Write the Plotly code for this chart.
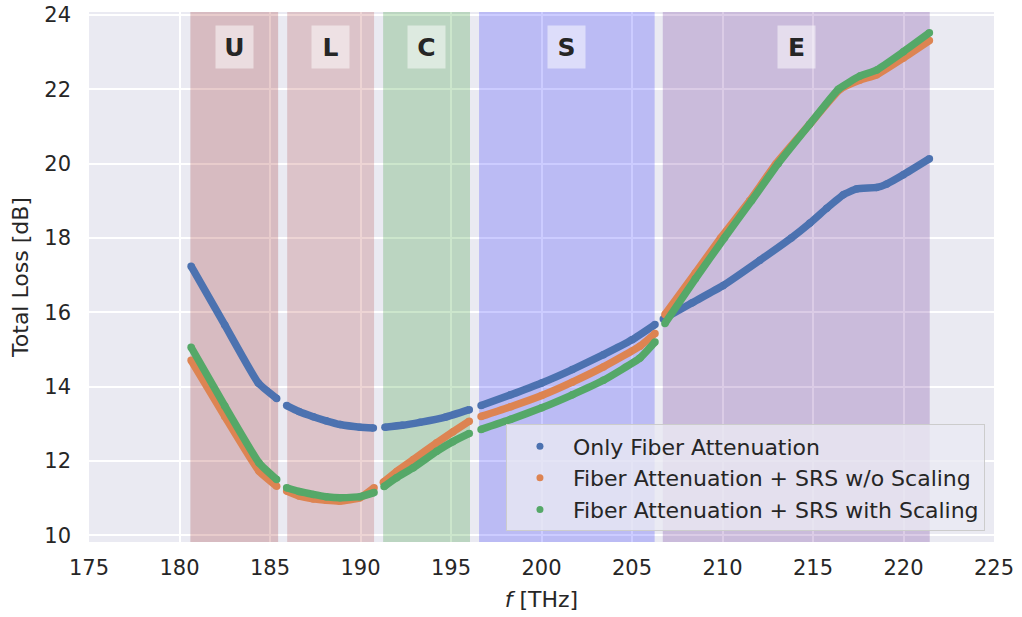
import plotly.graph_objects as go

# frequency bands [THz]
band_names = ["U", "L", "C", "S", "E"]
band_start = [180.6, 185.95, 191.25, 196.55, 206.7]
band_end = [185.45, 190.75, 196.05, 206.25, 221.45]
band_colors = ["rgba(139,0,0,0.2)", "rgba(165,42,42,0.2)", "rgba(0,128,0,0.2)",
               "rgba(0,0,255,0.2)", "rgba(75,0,130,0.2)"]

# Only Fiber Attenuation, one list per band
blue_f = [
    [180.64, 182.5, 184.35, 185.37],
    [185.92, 186.6, 187.39, 188.1, 188.87, 189.97, 190.71],
    [191.35, 192.3, 193.29, 194.7, 196.01],
    [196.66, 198.3, 200.01, 201.7, 203.42, 205.0, 206.27],
    [206.73, 208.3, 210.04, 212.07, 213.8, 214.83, 215.76, 216.67, 217.41,
     218.52, 219.07, 219.99, 221.43],
]
blue_v = [
    [17.24, 15.66, 14.10, 13.68],
    [13.49, 13.33, 13.19, 13.08, 12.98, 12.91, 12.89],
    [12.91, 12.96, 13.04, 13.18, 13.38],
    [13.49, 13.78, 14.10, 14.46, 14.86, 15.26, 15.67],
    [15.82, 16.25, 16.72, 17.40, 18.00, 18.40, 18.80, 19.16, 19.32,
     19.36, 19.45, 19.70, 20.13],
]

# Fiber Attenuation + SRS w/o Scaling
orange_f = [
    [180.64, 182.5, 184.39, 185.37],
    [185.92, 186.6, 187.39, 188.1, 188.87, 189.97, 190.75],
    [191.26, 192.0, 192.92, 194.21, 195.1, 196.01],
    [196.66, 198.3, 200.01, 201.7, 203.42, 205.44, 206.27],
    [206.82, 208.5, 209.9, 211.5, 212.96, 214.8, 216.5, 217.6, 218.52,
     219.99, 221.43],
]
orange_v = [
    [14.71, 13.20, 11.73, 11.32],
    [11.19, 11.06, 10.98, 10.94, 10.92, 11.01, 11.28],
    [11.43, 11.72, 12.04, 12.49, 12.78, 13.07],
    [13.20, 13.46, 13.76, 14.12, 14.53, 15.09, 15.43],
    [15.94, 17.06, 18.00, 19.00, 20.00, 21.05, 22.00, 22.25, 22.39,
     22.84, 23.31],
]

# Fiber Attenuation + SRS with Scaling
green_f = [
    [180.64, 182.5, 184.39, 185.37],
    [185.92, 186.6, 187.39, 188.1, 188.87, 189.97, 190.75],
    [191.30, 192.0, 192.92, 194.21, 195.1, 196.01],
    [196.66, 198.3, 200.01, 201.7, 203.42, 205.44, 206.27],
    [206.82, 208.5, 210.1, 211.6, 213.07, 214.8, 216.4, 217.6, 218.52,
     219.99, 221.43],
]
green_v = [
    [15.06, 13.48, 11.95, 11.50],
    [11.28, 11.18, 11.10, 11.04, 11.01, 11.04, 11.15],
    [11.31, 11.55, 11.82, 12.26, 12.52, 12.74],
    [12.85, 13.12, 13.43, 13.78, 14.17, 14.77, 15.20],
    [15.70, 16.90, 18.00, 19.00, 20.00, 21.05, 22.00, 22.36, 22.52,
     23.01, 23.52],
]

series_names = ["Only Fiber Attenuation",
                "Fiber Attenuation + SRS w/o Scaling",
                "Fiber Attenuation + SRS with Scaling"]
series_colors = ["#4C72B0", "#DD8452", "#55A868"]

Y_RANGE = [9.82, 24.08]
FONT = "DejaVu Sans"
TEXT = "#262626"


def join_segments(parts):
    out = []
    for p in parts:
        out.extend(p)
        out.append(None)
    return out[:-1]


fig = go.Figure()

# shaded bands drawn as filled traces so they sit above the grid but under the curves
for name, x0, x1, col in zip(band_names, band_start, band_end, band_colors):
    fig.add_trace(go.Scatter(
        x=[x0, x1, x1, x0, x0],
        y=[Y_RANGE[0], Y_RANGE[0], Y_RANGE[1], Y_RANGE[1], Y_RANGE[0]],
        mode="none", fill="toself", fillcolor=col,
        showlegend=False, hoverinfo="skip"))
    fig.add_annotation(
        x=(x0 + x1) / 2, y=23.14, text="<b>%s</b>" % name, showarrow=False,
        font=dict(family=FONT, size=25, color=TEXT),
        width=23, height=28,
        bgcolor="rgba(255,255,255,0.5)", borderpad=7)

series = [(blue_f, blue_v), (orange_f, orange_v), (green_f, green_v)]
for (fs, vs), name, col in zip(series, series_names, series_colors):
    fig.add_trace(go.Scatter(
        x=join_segments(fs), y=join_segments(vs), mode="lines+markers",
        line=dict(color=col, width=7.5, shape="spline", smoothing=0.4),
        marker=dict(color=col, size=7.5),
        connectgaps=False, showlegend=False, hoverinfo="skip"))

# legend entries shown as dots
for i, (name, col) in enumerate(zip(series_names, series_colors)):
    fig.add_trace(go.Scatter(
        x=[None], y=[None], mode="markers", name=name,
        legendgroup="g%d" % i,
        marker=dict(color=col, size=7)))

axis_common = dict(
    showgrid=True, gridcolor="white", gridwidth=1.6, zeroline=False,
    showline=False, ticks="", automargin=False,
    tickfont=dict(family=FONT, size=21, color=TEXT),
)

fig.update_layout(
    width=1022, height=617,
    margin=dict(l=89, r=28, t=12, b=75),
    paper_bgcolor="white", plot_bgcolor="#EAEAF2",
    font=dict(family=FONT, color=TEXT),
    xaxis=dict(axis_common, range=[175, 225], tick0=175, dtick=5,
               ticklabelstandoff=11,
               title=dict(text="<i>f</i> [THz]", standoff=12,
                          font=dict(family=FONT, size=22, color=TEXT))),
    yaxis=dict(axis_common, range=Y_RANGE, tick0=10, dtick=2,
               ticklabelstandoff=17,
               title=dict(text="Total Loss [dB]", standoff=9,
                          font=dict(family=FONT, size=22, color=TEXT))),
    legend=dict(x=0.99, y=0.02, xanchor="right", yanchor="bottom",
                bgcolor="rgba(234,234,242,0.8)", bordercolor="#CCCCCC",
                borderwidth=1, font=dict(family=FONT, size=22, color=TEXT),
                itemwidth=56, tracegroupgap=0),
)

fig.write_html("out.html", config={"displayModeBar": False},
               post_script="document.body.style.margin='0';")
